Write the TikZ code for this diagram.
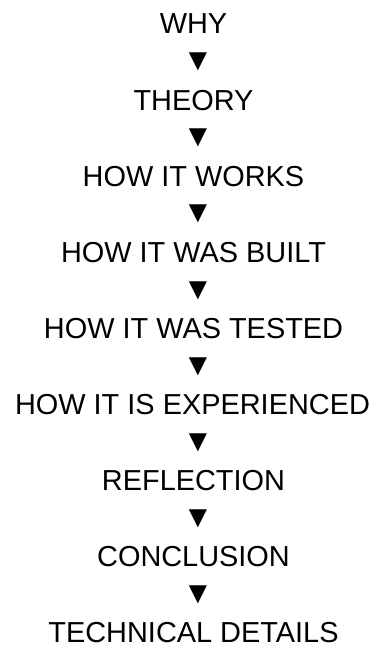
\documentclass[tikz,border=0pt]{standalone}
\usepackage{fontspec}
\setmainfont{Liberation Sans}
\usepackage{tikz}
\usetikzlibrary{positioning}
\tikzset{
  etapa/.style={inner sep=0pt, font=\fontsize{28.9}{31}\selectfont},
  seta/.style={inner sep=0pt, font=\fontsize{31}{33}\selectfont},
}

\begin{document}
\begin{tikzpicture}[x=1pt, y=1pt]
  \useasboundingbox (0,0) rectangle (378,-648);
  \node[etapa] (why) at (193.5,-24) {WHY};
  \node[seta] (s1) at (198,-62) {▼};
  \node[etapa] (theory) at (193.5,-100.1) {THEORY};
  \node[seta] (s2) at (198,-138.2) {▼};
  \node[etapa] (works) at (193.5,-176.2) {HOW IT WORKS};
  \node[seta] (s3) at (198,-214.3) {▼};
  \node[etapa] (built) at (193.5,-252.4) {HOW IT WAS BUILT};
  \node[seta] (s4) at (198,-290.4) {▼};
  \node[etapa] (tested) at (193.5,-328.5) {HOW IT WAS TESTED};
  \node[seta] (s5) at (198,-366.5) {▼};
  \node[etapa] (experienced) at (192.5,-404.6) {HOW IT IS EXPERIENCED};
  \node[seta] (s6) at (198,-442.7) {▼};
  \node[etapa] (reflection) at (193.5,-480.7) {REFLECTION};
  \node[seta] (s7) at (198,-518.8) {▼};
  \node[etapa] (conclusion) at (193.5,-556.8) {CONCLUSION};
  \node[seta] (s8) at (198,-594.9) {▼};
  \node[etapa] (details) at (193.5,-633) {TECHNICAL DETAILS};
\end{tikzpicture}
\end{document}
